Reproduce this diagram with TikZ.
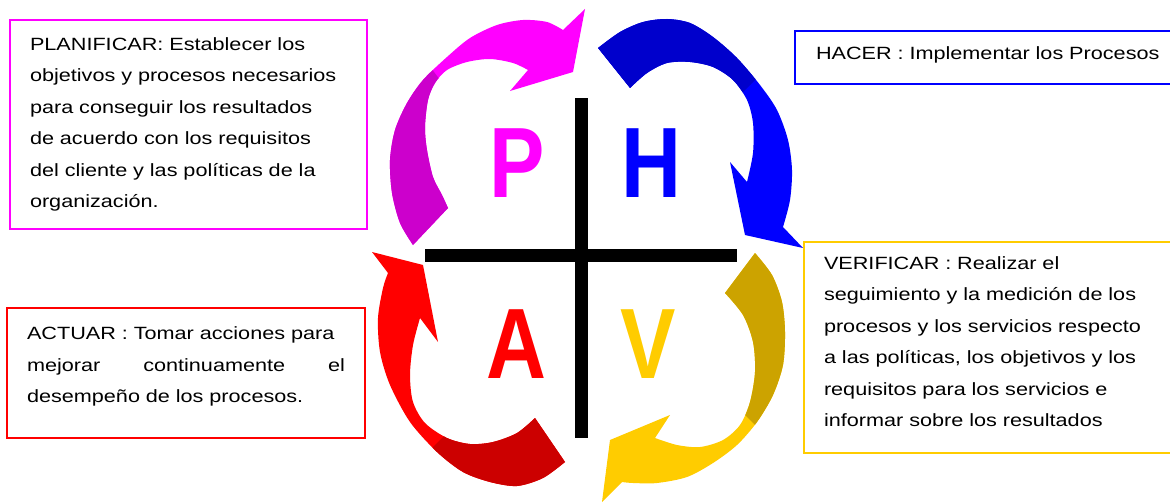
\documentclass[tikz,border=0pt]{standalone}
\usepackage{fontspec}
\setmainfont{Liberation Sans}
\newfontfamily\cajafont{Liberation Sans}[FakeStretch=1.22]
\newfontfamily\letrafont{Liberation Sans}[FakeStretch=0.83]

\definecolor{magentaclaro}{HTML}{FF00FF}
\definecolor{magentaoscuro}{HTML}{CC00CC}
\definecolor{azulclaro}{HTML}{0000FF}
\definecolor{azuloscuro}{HTML}{0000CC}
\definecolor{rojoclaro}{HTML}{FF0000}
\definecolor{rojooscuro}{HTML}{CC0000}
\definecolor{amarilloclaro}{HTML}{FFCC00}
\definecolor{amarillooscuro}{HTML}{CCA300}

\tikzset{
  caja/.style={draw=#1, line width=1.5pt, anchor=north west, align=left, inner xsep=15pt,
    font=\cajafont\fontsize{13.3}{23.6}\selectfont},
  letra/.style={text=#1, inner sep=0pt, font=\letrafont\bfseries\fontsize{75}{75}\selectfont},
  cruz/.style={line width=9.75pt}
}

\newcommand{\flechaP}{plot[smooth] coordinates {(413,245) (400,223) (392,193) (390,160) (395,130) (407,103) (423,80) (447,57) (470,38) (497,25) (523,20) (547,22) (563,30)}
  -- (585,9) -- (573,72) -- (510,91)
  -- plot[smooth] coordinates {(528,70) (513,63) (490,59) (467,62) (447,70) (435,83) (428,100) (425,127) (427,150) (433,177) (442,195) (448,208)} -- cycle}
\newcommand{\flechaH}{plot[smooth] coordinates {(598,48) (620,32) (643,22) (667,19) (690,23) (713,37) (737,58) (760,85) (777,110) (788,140) (792,170) (790,200) (783,227)}
  -- (803,248) -- (745,235) -- (730,162)
  -- plot[smooth] coordinates {(747,182) (753,153) (753,123) (747,100) (733,80) (713,67) (690,62) (667,63) (647,73) (630,88)} -- cycle}
\newcommand{\flechaV}{plot[smooth] coordinates {(755,253) (772,275) (782,302) (785,332) (783,365) (773,395) (757,422) (737,445) (713,463) (687,477) (657,483) (633,483) (622,482)}
  -- (602,502) -- (610,440) -- (670,415)
  -- plot[smooth] coordinates {(655,438) (677,445) (700,447) (723,440) (740,425) (750,402) (755,372) (753,342) (743,315) (725,293)} -- cycle}
\newcommand{\flechaA}{plot[smooth] coordinates {(565,462) (543,478) (517,486) (490,482) (463,472) (437,452) (410,422) (390,385) (380,352) (378,318) (383,288) (388,273)}
  -- (372,252) -- (423,265) -- (438,342)
  -- plot[smooth] coordinates {(420,318) (413,345) (410,375) (413,402) (425,423) (447,438) (470,444) (493,442) (517,433) (535,418)} -- cycle}

\begin{document}
\begin{tikzpicture}[x=0.75pt,y=-0.75pt]
\clip (0,0) rectangle (1170,503);
\fill[white] (0,0) rectangle (1170,503);

\fill[magentaclaro] \flechaP;
\begin{scope}
  \clip (380,250) -- (380,40) -- (410,40) -- (470,120) -- (470,250) -- cycle;
  \fill[magentaoscuro] \flechaP;
\end{scope}
\fill[azulclaro] \flechaH;
\begin{scope}
  \clip (590,0) -- (835,0) -- (635,200) -- (590,200) -- cycle;
  \fill[azuloscuro] \flechaH;
\end{scope}
\fill[amarilloclaro] \flechaV;
\begin{scope}
  \clip (660,330) -- (830,500) -- (830,240) -- (660,240) -- cycle;
  \fill[amarillooscuro] \flechaV;
\end{scope}
\fill[rojoclaro] \flechaA;
\begin{scope}
  \clip (370,510) -- (600,280) -- (600,510) -- cycle;
  \fill[rojooscuro] \flechaA;
\end{scope}

\draw[cruz] (425,255) -- (737,255);
\draw[cruz] (581.5,98) -- (581.5,438);

\node[letra=magentaclaro] (p) at (517,163) {P};
\node[letra=azulclaro] (h) at (651,163) {H};
\node[letra=rojoclaro] (a) at (516,344) {A};
\node[letra=amarilloclaro] (v) at (648,344) {V};

\node[caja=magentaclaro, text width=237.75pt, minimum height=156.75pt] (planificar) at (9,19)
  {PLANIFICAR: Establecer los\\objetivos y procesos necesarios\\para conseguir los resultados\\de acuerdo con los requisitos\\del cliente y las políticas de la\\organización.\rule[-2pt]{0pt}{0pt}};
\node[caja=azulclaro, inner xsep=15.75pt, text width=300pt, minimum height=39.75pt] (hacer) at (794,30)
  {HACER : Implementar los Procesos\rule[-7pt]{0pt}{0pt}};
\node[caja=amarilloclaro, text width=280pt, minimum height=158.25pt] (verificar) at (803,241)
  {VERIFICAR : Realizar el\\seguimiento y la medición de los\\procesos y los servicios respecto\\a las políticas, los objetivos y los\\requisitos para los servicios e\\informar sobre los resultados\rule[-9pt]{0pt}{0pt}};
\node[caja=rojoclaro, text width=238.5pt, minimum height=97.5pt] (actuar) at (6,307)
  {ACTUAR : Tomar acciones para\\\makebox[238.5pt]{mejorar\hfill continuamente\hfill el}\\desempeño de los procesos.\rule[-12pt]{0pt}{0pt}};
\end{tikzpicture}
\end{document}
